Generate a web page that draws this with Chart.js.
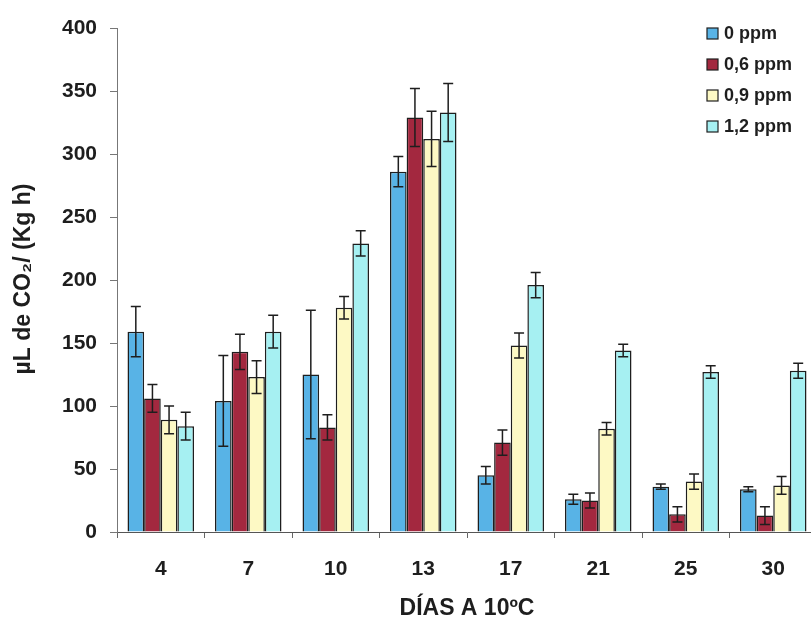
<!DOCTYPE html>
<html>
<head>
<meta charset="utf-8">
<script src="https://cdn.jsdelivr.net/npm/chart.js@4/dist/chart.umd.min.js"></script>
<style>
  html, body { margin: 0; padding: 0; background: #fff; overflow: hidden; }
  #wrap { position: relative; width: 820px; height: 622px; }
</style>
</head>
<body>
<div id="wrap"><canvas id="chart"></canvas></div>
<script>
// Data
const days = ['4', '7', '10', '13', '17', '21', '25', '30'];
const seriesNames = ['0 ppm', '0,6 ppm', '0,9 ppm', '1,2 ppm'];
const ppm0  = [159, 104, 125, 286, 45, 26, 36, 34];
const ppm06 = [106, 143, 83, 329, 71, 25, 14, 13];
const ppm09 = [89, 123, 178, 312, 148, 82, 40, 37];
const ppm12 = [84, 159, 229, 333, 196, 144, 127, 128];
const err0  = [20, 36, 51, 12, 7, 4, 2, 2];
const err06 = [11, 14, 10, 23, 10, 6, 6, 7];
const err09 = [11, 13, 9, 22, 10, 5, 6, 7];
const err12 = [11, 13, 10, 23, 10, 5, 5, 6];
const yTicks = [0, 50, 100, 150, 200, 250, 300, 350, 400];

const colors = ['#58B3E6', '#A3283F', '#FDF9C4', '#A6F0F2'];
const values = [ppm0, ppm06, ppm09, ppm12];
const errors = [err0, err06, err09, err12];

const FONT = 'Arial, "Liberation Sans", sans-serif';
const INK = '#1e1e1e';

// error bars drawn from each bar's value +/- error through the y scale
const errorBars = {
    id: 'errorBars',
    afterDatasetsDraw(chart) {
        const ctx = chart.ctx;
        const y = chart.scales.y;
        ctx.save();
        ctx.strokeStyle = INK;
        ctx.lineWidth = 1.5;
        chart.data.datasets.forEach((ds, i) => {
            const meta = chart.getDatasetMeta(i);
            meta.data.forEach((bar, j) => {
                const v = ds.data[j], e = ds.errors[j];
                const top = y.getPixelForValue(v + e);
                const bot = y.getPixelForValue(Math.max(v - e, 0));
                ctx.beginPath();
                ctx.moveTo(bar.x, top); ctx.lineTo(bar.x, bot);
                ctx.moveTo(bar.x - 5, top); ctx.lineTo(bar.x + 5, top);
                ctx.moveTo(bar.x - 5, bot); ctx.lineTo(bar.x + 5, bot);
                ctx.stroke();
            });
        });
        ctx.restore();
    }
};

// vertical legend in the top right corner, and the y title
const extras = {
    id: 'extras',
    afterDraw(chart) {
        const ctx = chart.ctx;
        ctx.save();
        ctx.font = 'bold 18px ' + FONT;
        ctx.textBaseline = 'middle';
        chart.data.datasets.forEach((ds, i) => {
            const cy = 33 + i * 31;
            ctx.fillStyle = ds.backgroundColor;
            ctx.fillRect(707, cy - 5, 11, 11);
            ctx.strokeStyle = INK;
            ctx.lineWidth = 1.2;
            ctx.strokeRect(707, cy - 5, 11, 11);
            ctx.fillStyle = INK;
            ctx.fillText(ds.label, 724, cy + 1);
        });

        ctx.translate(24, 279);
        ctx.rotate(-Math.PI / 2);
        ctx.textAlign = 'center';
        ctx.font = 'bold 23px ' + FONT;
        ctx.fillText('\u00b5L de CO\u2082/ (Kg h)', 0, 0);
        ctx.restore();
    }
};

new Chart(document.getElementById('chart'), {
    type: 'bar',
    data: {
        labels: days,
        datasets: values.map((v, i) => ({
            label: seriesNames[i],
            data: v,
            errors: errors[i],
            backgroundColor: colors[i],
            borderColor: INK,
            borderWidth: 1.5,
            categoryPercentage: 0.76,
            barPercentage: 1.0
        }))
    },
    options: {
        responsive: true,
        maintainAspectRatio: false,
        animation: false,
        layout: { padding: { top: 28, right: 3, left: 0, bottom: 0 } },
        plugins: {
            legend: { display: false },
            tooltip: { enabled: false }
        },
        scales: {
            x: {
                grid: { display: true, drawOnChartArea: false, offset: true, tickLength: 6, color: '#666' },
                border: { color: '#555', width: 1 },
                ticks: { color: INK, font: { family: FONT, size: 21, weight: 'bold' }, padding: 19 },
                title: {
                    display: true,
                    text: 'D\u00cdAS A 10\u00baC',
                    color: INK,
                    font: { family: FONT, size: 23, weight: 'bold' },
                    padding: { top: 10, bottom: 0 }
                },
                afterFit(scale) { scale.height = 90; }
            },
            y: {
                min: 0,
                max: 400,
                afterBuildTicks(scale) { scale.ticks = yTicks.map(v => ({ value: v })); },
                grid: { display: true, drawOnChartArea: false, tickLength: 7, color: '#777' },
                border: { color: '#777', width: 1 },
                ticks: { color: INK, font: { family: FONT, size: 21, weight: 'bold' }, padding: 13 },
                afterFit(scale) { scale.width = 117; }
            }
        }
    },
    plugins: [errorBars, extras]
});
</script>
</body>
</html>
